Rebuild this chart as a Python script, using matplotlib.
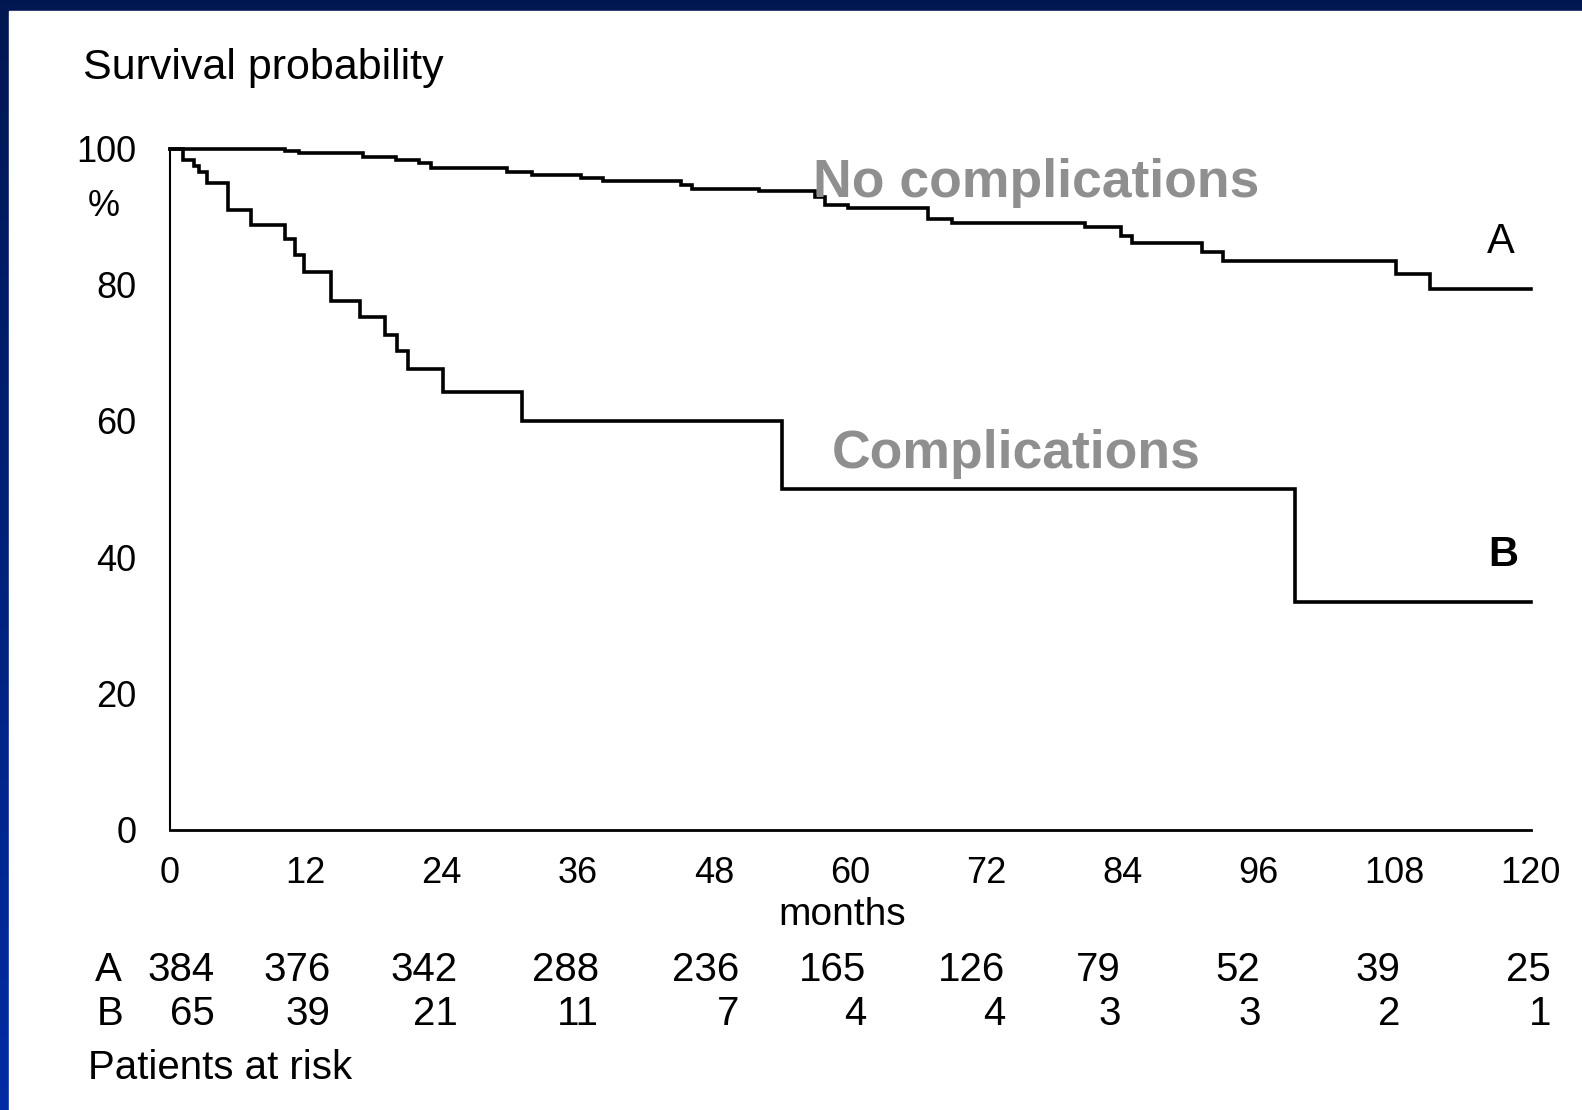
import matplotlib
matplotlib.use("Agg")
import matplotlib.pyplot as plt
import numpy as np
from matplotlib import font_manager
from matplotlib.patches import Rectangle

# Kaplan-Meier estimates (months, % surviving)
a_times = [0, 10.2, 11.4, 17.1, 20.0, 22.0, 23.1, 29.8, 32.0, 36.3, 38.2, 45.1,
           46.1, 52.0, 56.9, 57.8, 59.8, 66.9, 69.0, 80.7, 83.9, 84.9, 91.0,
           92.9, 108.1, 111.1]
a_surv = [100, 99.7, 99.3, 98.8, 98.3, 97.8, 97.1, 96.6, 96.1, 95.7, 95.3, 94.6,
          94.1, 93.8, 92.9, 91.7, 91.2, 89.7, 89.1, 88.4, 87.2, 86.1, 84.8,
          83.5, 81.5, 79.4]

b_times = [0, 1.2, 2.2, 2.6, 3.3, 5.2, 7.2, 10.2, 11.1, 11.9, 14.2, 16.8, 19.0,
           20.1, 21.0, 24.1, 31.1, 54.0, 99.2]
b_surv = [100, 98.3, 97.5, 96.6, 94.9, 90.9, 88.7, 86.7, 84.3, 81.9, 77.6, 75.2,
          72.6, 70.2, 67.6, 64.3, 60.0, 50.0, 33.4]

t_end = 120
month_ticks = [0, 12, 24, 36, 48, 60, 72, 84, 96, 108, 120]
pct_ticks = [0, 20, 40, 60, 80, 100]

risk_a = [384, 376, 342, 288, 236, 165, 126, 79, 52, 39, 25]
risk_b = [65, 39, 21, 11, 7, 4, 4, 3, 3, 2, 1]
# right edge of each risk-table column, in months (the scan is a bit irregular)
risk_cols = [4.0, 14.2, 25.4, 37.9, 50.2, 61.4, 73.7, 83.9, 96.2, 108.5, 121.8]

names = {f.name for f in font_manager.fontManager.ttflist}
SANS = "Liberation Sans"
if "Liberation Sans Narrow" in names:
    NARROW, narrow_size = "Liberation Sans Narrow", 34
else:
    NARROW, narrow_size = "Liberation Sans", 29

W, H = 1582, 1110
fig = plt.figure(figsize=(W / 100, H / 100), dpi=100)

# blue slide frame: gradient background, white panel on top
bg = fig.add_axes([0, 0, 1, 1], zorder=-10)
grad = np.linspace(0, 1, 256)[:, None]
top = np.array([0.0, 0.09, 0.32])
bottom = np.array([0.0, 0.17, 0.64])
img = top + grad[..., None] * (bottom - top)
bg.imshow(img, aspect="auto", extent=[0, 1, 0, 1], origin="upper")
bg.add_patch(Rectangle((9 / W, 0), 1, 1 - 11 / H, color="white"))
bg.set_xlim(0, 1)
bg.set_ylim(0, 1)
bg.axis("off")

x0, x1 = 169.5, 1530.5   # pixel positions of month 0 and 120
y0, y1 = 829.5, 148.5    # pixel positions of 0% and 100%
ax = fig.add_axes([x0 / W, 1 - y0 / H, (x1 - x0) / W, (y0 - y1) / H])
ax.set_facecolor("none")

lw = 2.6
ax.step(a_times + [t_end], a_surv + [a_surv[-1]], where="post",
        color="black", lw=lw, clip_on=False, solid_joinstyle="miter")
ax.step(b_times + [t_end], b_surv + [b_surv[-1]], where="post",
        color="black", lw=lw, clip_on=False, solid_joinstyle="miter")

ax.set_xlim(0, t_end)
ax.set_ylim(0, 100)
for side in ("top", "right"):
    ax.spines[side].set_visible(False)
ax.spines["left"].set_linewidth(1.5)
ax.spines["bottom"].set_linewidth(2.0)

ax.set_xticks(month_ticks)
ax.set_xticklabels([str(m) for m in month_ticks])
ax.set_yticks(pct_ticks)
ax.set_yticklabels([str(p) for p in pct_ticks])
ax.tick_params(axis="x", length=0, pad=19, labelsize=26)
ax.tick_params(axis="y", length=0, pad=24, labelsize=26)
for lab in ax.get_xticklabels() + ax.get_yticklabels():
    lab.set_family(SANS)

ax.text(-5.8, 91.5, "%", ha="center", va="center", fontsize=26, family=SANS)
fig.text(83 / W, 1 - 68 / H, "Survival probability", ha="left", va="center",
         fontsize=31, family=SANS)
ax.text(59.3, -12.5, "months", ha="center", va="center", fontsize=28, family=SANS)

ax.text(56.7, 94.9, "No complications", ha="left", va="center", fontsize=38.5,
        fontweight="bold", color="#8f8f8f", family=SANS)
ax.text(58.4, 55.1, "Complications", ha="left", va="center", fontsize=38.5,
        fontweight="bold", color="#8f8f8f", family=SANS)
ax.text(117.4, 86.2, "A", ha="center", va="center", fontsize=30, family=SANS)
ax.text(117.6, 40.3, "B", ha="center", va="center", fontsize=30,
        fontweight="bold", family=SANS)

# patients-at-risk table under the axis
trans = ax.get_xaxis_transform()
row_a_y = 1 - (970 - y1) / (y0 - y1)
row_b_y = 1 - (1014 - y1) / (y0 - y1)
ax.text(-5.4, row_a_y, "A", transform=trans, ha="center", va="center",
        fontsize=narrow_size, family=NARROW)
ax.text(-5.2, row_b_y, "B", transform=trans, ha="center", va="center",
        fontsize=narrow_size, family=NARROW)
for xc, na, nb in zip(risk_cols, risk_a, risk_b):
    ax.text(xc, row_a_y, str(na), transform=trans, ha="right", va="center",
            fontsize=narrow_size, family=NARROW)
    ax.text(xc, row_b_y, str(nb), transform=trans, ha="right", va="center",
            fontsize=narrow_size, family=NARROW)
fig.text(88 / W, 1 - 1068 / H, "Patients at risk", ha="left", va="center",
         fontsize=narrow_size, family=NARROW)

fig.savefig("out.png", dpi=100)
